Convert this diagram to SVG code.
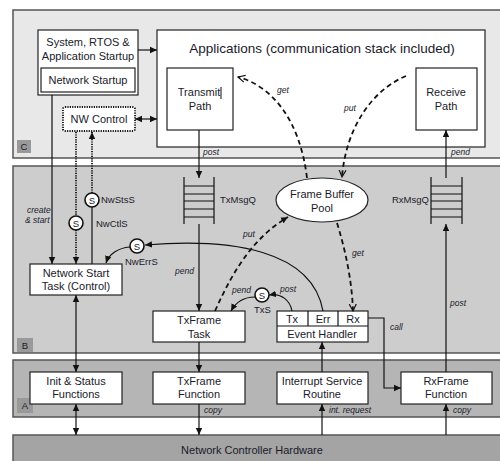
<svg xmlns="http://www.w3.org/2000/svg" width="500" height="461" viewBox="0 0 500 461">
<defs>
<marker id="ah" markerUnits="userSpaceOnUse" markerWidth="8" markerHeight="8" refX="7" refY="4" orient="auto"><path d="M0,0.8 L7,4 L0,7.2 Z" fill="#111"/></marker>
<marker id="ahs" markerUnits="userSpaceOnUse" markerWidth="8" markerHeight="8" refX="7" refY="4" orient="auto-start-reverse"><path d="M0,0.8 L7,4 L0,7.2 Z" fill="#111"/></marker>
<marker id="ao" markerUnits="userSpaceOnUse" markerWidth="9" markerHeight="9" refX="7" refY="4.5" orient="auto"><path d="M0,1 L7,4.5 L0,8" fill="none" stroke="#111" stroke-width="1.2"/></marker>
</defs>
<style>
.layer{stroke:#555;stroke-width:1.5}
.box{fill:#fff;stroke:#222;stroke-width:1.2}
.t{font-family:"Liberation Sans",Arial,sans-serif;font-size:11px;fill:#1a1a2a;text-anchor:middle}
.title{font-family:"Liberation Sans",Arial,sans-serif;font-size:13.5px;fill:#1a1a2a;text-anchor:middle}
.s{font-family:"Liberation Sans",Arial,sans-serif;font-size:9.5px;fill:#1a1a2a}
.i{font-family:"Liberation Sans",Arial,sans-serif;font-size:8.5px;font-style:italic;fill:#1a1a2a}
.ln{fill:none;stroke:#111;stroke-width:1.2}
.dash{fill:none;stroke:#111;stroke-width:1.8;stroke-dasharray:5 3.5}
.dot{fill:none;stroke:#111;stroke-width:1.8;stroke-dasharray:1.2 1.2}
.sem{fill:#fff;stroke:#111;stroke-width:1.6}
.tag{fill:#999;stroke:none}
</style>
<rect width="500" height="461" fill="#fff"/>
<g id="layers">
<rect class="layer" x="13" y="10" width="490" height="148" fill="#e8e8e8"/>
<rect class="layer" x="13" y="166" width="490" height="187" fill="#cdcdcd"/>
<rect class="layer" x="13" y="360" width="490" height="57" fill="#b5b5b5"/>
<rect class="layer" x="13" y="435" width="490" height="30" fill="#a4a4a4"/>
<rect class="tag" x="17" y="140" width="14" height="13"/>
<text class="s" x="24" y="150" text-anchor="middle">C</text>
<rect class="tag" x="17" y="338" width="16" height="14"/>
<text class="s" x="25" y="349" text-anchor="middle">B</text>
<rect class="tag" x="17" y="398" width="16" height="15"/>
<text class="s" x="25" y="409" text-anchor="middle">A</text>
<text class="t" x="252" y="454">Network Controller Hardware</text>
</g>
<g id="system-startup">
<rect class="box" x="38" y="30" width="100" height="65"/>
<text class="t" x="88" y="46">System, RTOS &amp;</text>
<text class="t" x="88" y="60">Application Startup</text>
<rect class="box" x="41" y="68" width="94" height="24"/>
<text class="t" x="88" y="84">Network Startup</text>
</g>
<g id="applications">
<rect class="box" x="157" y="30" width="328" height="117"/>
<text class="title" x="322" y="53">Applications (communication stack included)</text>
</g>
<g id="transmit-path">
<rect class="box" x="167" y="68" width="66" height="62"/>
<text class="t" x="199" y="96">Transmit</text>
<line x1="221" y1="87" x2="221" y2="99" stroke="#111" stroke-width="1"/>
<text class="t" x="200" y="110">Path</text>
</g>
<g id="receive-path">
<rect class="box" x="416" y="68" width="61" height="62"/>
<text class="t" x="446" y="96">Receive</text>
<text class="t" x="446" y="110">Path</text>
</g>
<g id="nw-control">
<rect x="63" y="107" width="72" height="24" rx="2" fill="#fff" stroke="#111" stroke-width="1.8" stroke-dasharray="1.2 1.2"/>
<text class="t" x="99" y="123">NW Control</text>
</g>
<g id="txmsgq">
<path class="ln" d="M184 177 V224 M214 177 V224 M184 186 H214 M184 194 H214 M184 201 H214 M184 209 H214 M184 217 H214"/>
<text class="s" x="220" y="203">TxMsgQ</text>
</g>
<g id="rxmsgq">
<path class="ln" d="M431 177 V224 M462 177 V224 M431 186 H462 M431 194 H462 M431 201 H462 M431 209 H462 M431 217 H462"/>
<text class="s" x="392" y="203">RxMsgQ</text>
</g>
<g id="frame-buffer-pool">
<ellipse cx="322" cy="200" rx="46" ry="22" fill="#fff" stroke="#222" stroke-width="1.2"/>
<text class="t" x="322" y="198">Frame Buffer</text>
<text class="t" x="322" y="212">Pool</text>
</g>
<g id="network-start-task">
<rect class="box" x="30" y="264" width="92" height="31"/>
<text class="t" x="76" y="277">Network Start</text>
<text class="t" x="76" y="290">Task (Control)</text>
</g>
<g id="txframe-task">
<rect class="box" x="153" y="311" width="92" height="31"/>
<text class="t" x="199" y="324">TxFrame</text>
<text class="t" x="199" y="338">Task</text>
</g>
<g id="event-handler">
<rect class="box" x="277" y="311" width="91" height="31"/>
<path class="ln" d="M277 326 H368 M308 311 V326 M338 311 V326"/>
<text class="t" x="292" y="323">Tx</text>
<text class="t" x="323" y="323">Err</text>
<text class="t" x="353" y="323">Rx</text>
<text class="t" x="322" y="338">Event Handler</text>
</g>
<g id="init-status">
<rect class="box" x="30" y="372" width="92" height="32"/>
<text class="t" x="76" y="385">Init &amp; Status</text>
<text class="t" x="76" y="398">Functions</text>
</g>
<g id="txframe-function">
<rect class="box" x="153" y="372" width="92" height="32"/>
<text class="t" x="199" y="385">TxFrame</text>
<text class="t" x="199" y="398">Function</text>
</g>
<g id="isr">
<rect class="box" x="277" y="372" width="91" height="32"/>
<text class="t" x="322" y="385">Interrupt Service</text>
<text class="t" x="322" y="398">Routine</text>
</g>
<g id="rxframe-function">
<rect class="box" x="401" y="372" width="91" height="32"/>
<text class="t" x="446" y="385">RxFrame</text>
<text class="t" x="446" y="398">Function</text>
</g>
<g id="connectors">
<line class="ln" x1="138" y1="50" x2="157" y2="50" marker-end="url(#ah)"/>
<line class="ln" x1="135" y1="119" x2="157" y2="119" marker-start="url(#ahs)" marker-end="url(#ah)"/>
<line class="ln" x1="52" y1="95" x2="52" y2="264" marker-end="url(#ah)"/>
<line class="dot" x1="76" y1="132" x2="76" y2="216"/>
<line class="dot" x1="76" y1="230" x2="76" y2="264" marker-end="url(#ah)"/>
<line class="ln" x1="92" y1="264" x2="92" y2="207"/>
<line class="dot" x1="92" y1="193" x2="92" y2="132" marker-end="url(#ah)"/>
<line class="ln" x1="76" y1="295" x2="76" y2="372" marker-start="url(#ahs)" marker-end="url(#ah)"/>
<line class="ln" x1="76" y1="404" x2="76" y2="435" marker-start="url(#ahs)" marker-end="url(#ah)"/>
<line class="ln" x1="199" y1="130" x2="199" y2="178" marker-end="url(#ah)"/>
<line class="ln" x1="199" y1="224" x2="199" y2="311" marker-end="url(#ah)"/>
<line class="ln" x1="199" y1="342" x2="199" y2="372" marker-end="url(#ah)"/>
<line class="ln" x1="199" y1="404" x2="199" y2="435" marker-end="url(#ah)"/>
<line class="ln" x1="322" y1="372" x2="322" y2="342" marker-end="url(#ah)"/>
<line class="ln" x1="322" y1="435" x2="322" y2="404" marker-end="url(#ah)"/>
<line class="ln" x1="446" y1="435" x2="446" y2="404" marker-end="url(#ah)"/>
<line class="ln" x1="446" y1="372" x2="446" y2="224" marker-end="url(#ah)"/>
<line class="ln" x1="446" y1="178" x2="446" y2="130" marker-end="url(#ah)"/>
<path class="ln" d="M368 318 H384 V388 H401" marker-end="url(#ah)"/>
<path class="dash" d="M307 178 C300 120 272 86 238 77" marker-end="url(#ao)"/>
<path class="dash" d="M406 76 C372 90 346 128 342 177" marker-end="url(#ao)"/>
<path class="dash" d="M215 311 C235 266 256 236 288 217" marker-end="url(#ah)"/>
<path class="dash" d="M337 223 C346 252 352 282 353 311" marker-end="url(#ao)"/>
<path class="ln" d="M323 311 C312 250 232 238 145 245" stroke-width="1.5" marker-end="url(#ah)"/>
<path class="ln" d="M130 247 C118 248 109 254 106 263" stroke-width="1.5" marker-end="url(#ah)"/>
<path class="ln" d="M292 311 C290 300 281 293 269 295" marker-end="url(#ah)"/>
<path class="ln" d="M255 297 C245 297 236 302 231 311" marker-end="url(#ah)"/>
<text class="i" x="27" y="213">create</text>
<text class="i" x="25" y="223">&amp; start</text>
<text class="i" x="203" y="155">post</text>
<text class="i" x="451" y="155">pend</text>
<text class="i" x="277" y="93">get</text>
<text class="i" x="344" y="111">put</text>
<text class="i" x="243" y="237">put</text>
<text class="i" x="352" y="256">get</text>
<text class="i" x="175" y="274">pend</text>
<text class="i" x="232" y="293">pend</text>
<text class="i" x="280" y="292">post</text>
<text class="i" x="450" y="306">post</text>
<text class="i" x="390" y="330">call</text>
<text class="i" x="204" y="413">copy</text>
<text class="i" x="329" y="413">int. request</text>
<text class="i" x="453" y="413">copy</text>
</g>
<g id="nwstss">
<circle class="sem" cx="92" cy="200" r="7"/>
<text class="s" x="92" y="203.5" text-anchor="middle">S</text>
<text class="s" x="101" y="203">NwStsS</text>
</g>
<g id="nwctls">
<circle class="sem" cx="76" cy="223" r="7"/>
<text class="s" x="76" y="226.5" text-anchor="middle">S</text>
<text class="s" x="96" y="227">NwCtlS</text>
</g>
<g id="nwerrs">
<circle class="sem" cx="137" cy="246" r="7"/>
<text class="s" x="137" y="249.5" text-anchor="middle">S</text>
<text class="s" x="125" y="265">NwErrS</text>
</g>
<g id="txs">
<circle class="sem" cx="262" cy="295" r="7"/>
<text class="s" x="262" y="298.5" text-anchor="middle">S</text>
<text class="s" x="254" y="313">TxS</text>
</g>
</svg>
